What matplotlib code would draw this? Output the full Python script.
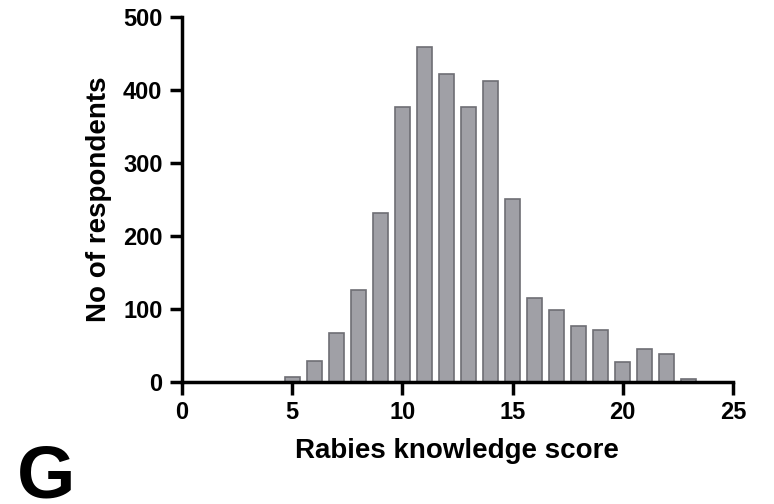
import matplotlib.pyplot as plt

plt.rcParams["font.family"] = ["Liberation Sans", "DejaVu Sans"]
plt.rcParams["font.weight"] = "bold"

# Score distribution
scores = list(range(5, 24))
respondents = [7, 29, 67, 126, 232, 377, 459, 422, 377, 412,
               251, 115, 99, 77, 71, 27, 45, 38, 4]

fig = plt.figure(figsize=(7.74, 5.04), dpi=100)
ax = fig.add_axes([0.235, 0.242, 0.712, 0.724])

ax.bar(scores, respondents, width=0.68, color="#a0a0a6",
       edgecolor="#6e6e74", linewidth=1.2)

ax.set_xlim(0, 25)
ax.set_ylim(0, 500)
ax.set_xticks([0, 5, 10, 15, 20, 25])
ax.set_yticks([0, 100, 200, 300, 400, 500])

for side in ["top", "right"]:
    ax.spines[side].set_visible(False)
for side in ["left", "bottom"]:
    ax.spines[side].set_linewidth(2.5)
ax.tick_params(width=2.5, length=9, labelsize=17, pad=5)
for lbl in ax.get_xticklabels() + ax.get_yticklabels():
    lbl.set_fontweight("bold")

ax.set_xlabel("Rabies knowledge score", fontsize=20, fontweight="bold", labelpad=10)
ax.set_ylabel("No of respondents", fontsize=20, fontweight="bold", labelpad=8)

fig.text(0.022, 0.012, "G", fontsize=54, fontweight="bold", va="baseline")

fig.savefig("out.png", dpi=100)
